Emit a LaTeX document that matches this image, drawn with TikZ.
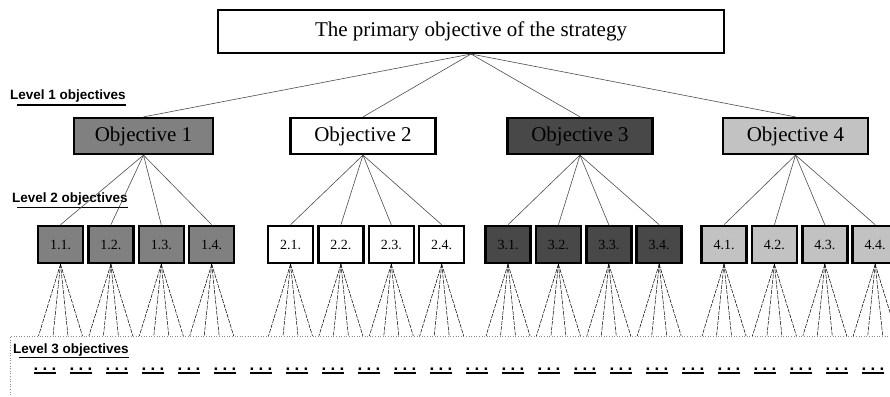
\documentclass[tikz,border=0pt]{standalone}
\usepackage{fontspec}
\setmainfont{Liberation Serif}
\setsansfont{Liberation Sans}
\usetikzlibrary{positioning}
\definecolor{fillOne}{RGB}{128,128,128}
\definecolor{fillThree}{RGB}{72,72,72}
\definecolor{fillFour}{RGB}{194,194,194}

\begin{document}
\begin{tikzpicture}[x=1pt, y=-1pt,
    topbox/.style={draw, line width=2pt, minimum width=506pt,
        minimum height=43pt, inner sep=0pt,
        font=\fontsize{21}{25}\selectfont},
    objbox/.style={draw, line width=2.2pt, minimum width=145pt,
        minimum height=36pt, inner sep=0pt,
        font=\fontsize{21}{25}\selectfont},
    subbox/.style={draw, line width=2.5pt, minimum width=45pt,
        minimum height=37pt, inner sep=0pt,
        font=\fontsize{14}{16}\selectfont},
    levellabel/.style={anchor=base west, inner sep=0pt,
        font=\sffamily\bfseries\fontsize{13.5}{16}\selectfont},
    dotsmark/.style={anchor=base, inner sep=0pt,
        font=\sffamily\bfseries\fontsize{17}{19}\selectfont},
    link/.style={black!70, line width=0.6pt},
    leaf/.style={black, line width=0.5pt, dash pattern=on 4pt off 1.2pt}
]
    \useasboundingbox (0,0) rectangle (890,396);

    % Primary objective
    \node [topbox] (Primary) at (471,31.5) {The primary objective of the strategy};

    % Level 1
    \node [levellabel] (Level1) at (10,99) {Level 1 objectives};
    \draw [line width=1.5pt] ([xshift=7pt,yshift=-6pt]Level1.base west)
        -- ([yshift=-6pt]Level1.base east);
    \node [objbox, fill=fillOne, minimum width=139pt] (Objective1) at (143.5,136) {Objective 1};
    \node [objbox, fill=white] (Objective2) at (363,136) {Objective 2};
    \node [objbox, fill=fillThree] (Objective3) at (580,136) {Objective 3};
    \node [objbox, fill=fillFour] (Objective4) at (795.5,136) {Objective 4};
    \foreach \i in {1,...,4}
        \draw [link] (Primary.south) -- (Objective\i.north);

    % Level 2
    \node [levellabel] (Level2) at (12,202) {Level 2 objectives};
    \draw [line width=1.5pt] ([xshift=5pt,yshift=-5.5pt]Level2.base west)
        -- ([yshift=-5.5pt]Level2.base east);
    \foreach \g/\s/\c in {1/60.5/fillOne, 2/290.5/white, 3/508/fillThree, 4/724/fillFour} {
        \foreach \k in {1,...,4} {
            \pgfmathsetmacro{\x}{\s+50.4*(\k-1)}
            \node [subbox, fill=\c] (Sub\g\k) at (\x,244.5) {\g.\k.};
            \draw [link] (Objective\g.south) -- (Sub\g\k.north);
            % fan to level 3
            \foreach \o [count=\j] in {-22,-7.5,7.5,22} {
                \coordinate (Leaf\g\k\j) at (\x+\o,336);
                \draw [leaf] (Sub\g\k.south) -- (Leaf\g\k\j);
            }
        }
    }

    % Level 3
    \draw [dotted, black!45, line width=0.6pt] (10,400) -- (10,336) -- (895,336);
    \node [levellabel] (Level3) at (13,353) {Level 3 objectives};
    \draw [line width=1.5pt] ([xshift=6pt,yshift=-4.5pt]Level3.base west)
        -- ([yshift=-4.5pt]Level3.base east);
    \foreach \k in {1,...,24} {
        \node [dotsmark] (Dots\k) at (9+36*\k,370) {.\hspace{4.2pt}.\hspace{4.2pt}.};
        \draw [line width=2pt] ([xshift=-11pt,yshift=-2.5pt]Dots\k.base)
            -- ([xshift=11pt,yshift=-2.5pt]Dots\k.base);
    }
\end{tikzpicture}
\end{document}
